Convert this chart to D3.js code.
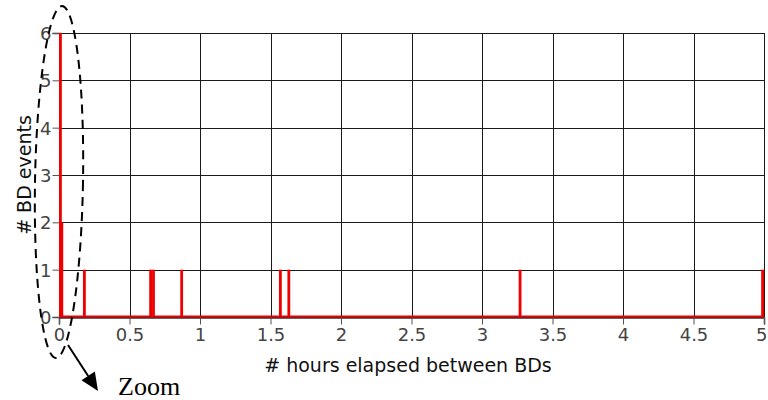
<!DOCTYPE html>
<html>
<head>
<meta charset="utf-8">
<script src="https://cdn.jsdelivr.net/npm/d3@7"></script>
<style>
  html, body { margin: 0; padding: 0; background: #fff; }
  svg { display: block; }
</style>
</head>
<body>
<svg id="chart" width="768" height="400"></svg>
<script>
// Histogram of time gaps between BD events (bin width 0.02 h)
const binStarts = [0, 0.01, 0.17, 0.64, 0.66, 0.86, 1.56, 1.62, 3.26, 4.98];
const binCounts = [6, 2, 1, 1, 1, 1, 1, 1, 1, 1];
const binWidth = 0.02;
const xTicks = [0, 0.5, 1, 1.5, 2, 2.5, 3, 3.5, 4, 4.5, 5];
const xTickLabels = ["0", "0.5", "1", "1.5", "2", "2.5", "3", "3.5", "4", "4.5", "5"];
const yTicks = [0, 1, 2, 3, 4, 5, 6];
const xTitle = "# hours elapsed between BDs";
const yTitle = "# BD events";
const noteText = "Zoom";

const svg = d3.select("#chart");
const margin = { left: 59, right: 4, top: 33, bottom: 83 };
const W = 768, H = 400;

const x = d3.scaleLinear().domain([0, 5]).range([margin.left, W - margin.right]);
const y = d3.scaleLinear().domain([0, 6]).range([H - margin.bottom, margin.top]);

const tickFont = "DejaVu Sans, Verdana, sans-serif";

// grid
const grid = svg.append("g");
grid.selectAll("line.v").data(xTicks).join("line")
  .attr("x1", d => Math.round(x(d)) + 0.5).attr("x2", d => Math.round(x(d)) + 0.5)
  .attr("y1", y(6)).attr("y2", y(0))
  .attr("stroke", "#1a1a1a").attr("stroke-width", 1);
grid.selectAll("line.h").data(yTicks).join("line")
  .attr("x1", x(0)).attr("x2", x(5))
  .attr("y1", d => Math.round(y(d)) + 0.5).attr("y2", d => Math.round(y(d)) + 0.5)
  .attr("stroke", "#1a1a1a").attr("stroke-width", 1);

// axes
const xAxis = svg.append("g")
  .attr("transform", `translate(0,${Math.round(y(0)) + 0.5})`)
  .call(d3.axisBottom(x).tickValues(xTicks).tickFormat((d, i) => xTickLabels[i]).tickSize(7).tickPadding(4));
const yAxis = svg.append("g")
  .attr("transform", `translate(${Math.round(x(0)) + 0.5},0)`)
  .call(d3.axisLeft(y).tickValues(yTicks).tickFormat(d3.format("d")).tickSize(7).tickPadding(1));
[xAxis, yAxis].forEach(a => {
  a.select(".domain").attr("stroke", "#333").attr("stroke-width", 1.5);
  a.selectAll(".tick line").attr("stroke", "#555");
  a.selectAll(".tick text")
    .attr("font-family", tickFont).attr("font-size", 18).attr("fill", "#444");
});
yAxis.selectAll(".tick text").attr("dy", "0.36em");
// keep the last x label inside the frame
xAxis.selectAll(".tick text").filter(d => d === 5).attr("text-anchor", "end").attr("dx", 3);

// bars
svg.append("g").selectAll("rect").data(binStarts).join("rect")
  .attr("x", d => x(d))
  .attr("width", d => x(d + binWidth) - x(d))
  .attr("y", (d, i) => y(binCounts[i]))
  .attr("height", (d, i) => y(0) - y(binCounts[i]))
  .attr("fill", "#ee0000");

// histogram baseline
svg.append("line")
  .attr("x1", x(0)).attr("x2", x(5))
  .attr("y1", y(0) - 0.5).attr("y2", y(0) - 0.5)
  .attr("stroke", "#ee0000").attr("stroke-width", 2);

// axis titles
svg.append("text")
  .attr("x", 408).attr("y", 372)
  .attr("text-anchor", "middle")
  .attr("font-family", tickFont).attr("font-size", 19).attr("fill", "#111")
  .text(xTitle);
svg.append("text")
  .attr("transform", "translate(31,175) rotate(-90)")
  .attr("text-anchor", "middle")
  .attr("font-family", tickFont).attr("font-size", 19).attr("fill", "#111")
  .text(yTitle);

// dashed zoom region around the zero bin
svg.append("ellipse")
  .attr("cx", 59).attr("cy", 182).attr("rx", 24).attr("ry", 176)
  .attr("transform", "rotate(1,59,182)")
  .attr("fill", "none").attr("stroke", "#000")
  .attr("stroke-width", 2).attr("stroke-dasharray", "9,6");

// arrow pointing to the zoom note
const ax0 = 68, ay0 = 345, ax1 = 98, ay1 = 391;
const ang = Math.atan2(ay1 - ay0, ax1 - ax0);
const headLen = 18, headHalf = 8;
const bx = ax1 - headLen * Math.cos(ang), by = ay1 - headLen * Math.sin(ang);
svg.append("line")
  .attr("x1", ax0).attr("y1", ay0).attr("x2", bx).attr("y2", by)
  .attr("stroke", "#000").attr("stroke-width", 2);
svg.append("polygon")
  .attr("points", [
    [ax1, ay1],
    [bx + headHalf * Math.sin(ang), by - headHalf * Math.cos(ang)],
    [bx - headHalf * Math.sin(ang), by + headHalf * Math.cos(ang)]
  ].map(p => p.join(",")).join(" "))
  .attr("fill", "#000");

svg.append("text")
  .attr("x", 118).attr("y", 395)
  .attr("font-family", "Liberation Serif, Times New Roman, serif")
  .attr("font-size", 26).attr("fill", "#000")
  .text(noteText);
</script>
</body>
</html>
